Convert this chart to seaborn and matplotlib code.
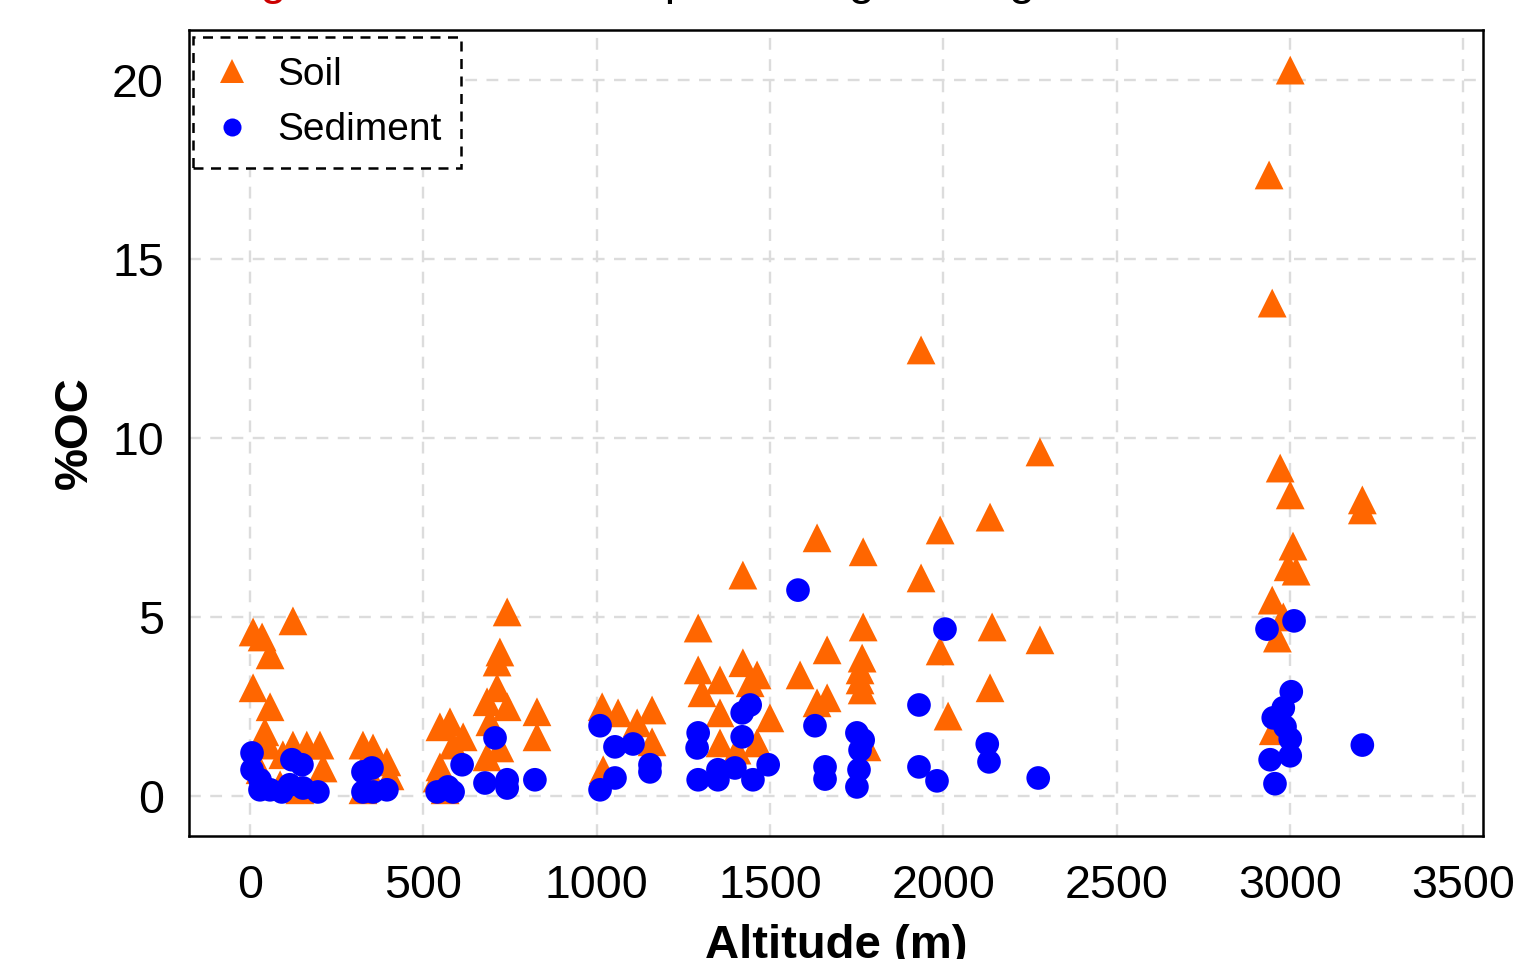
import numpy as np
import pandas as pd
import matplotlib
matplotlib.use("Agg")
import matplotlib.pyplot as plt
import seaborn as sns

# ---- data ----
soil_alt = [9, 35, 58, 124, 9, 58, 43, 52, 124, 164, 202, 95, 211, 29, 144, 87,
            326, 355, 395, 404, 326, 361,
            548, 577, 615, 586, 548, 540, 563,
            742, 721, 713, 713, 684, 742, 692, 684, 721, 828, 828,
            1016, 1062, 1117, 1160, 1160, 1019,
            1293, 1293, 1356, 1304, 1422, 1463, 1443, 1356, 1500, 1356, 1463, 1405, 1422,
            1587, 1636, 1665, 1665, 1636, 1769, 1769, 1766, 1760, 1760, 1766, 1780,
            1936, 1936, 1991, 1991, 2014, 2135, 2141, 2135, 2279, 2279,
            3001, 2940, 2949, 2972, 3001, 3009, 2995, 3018, 2949, 2981, 2964, 2952, 3209, 3209]
soil_oc = [4.58, 4.44, 3.94, 4.89, 3.02, 2.49, 1.79, 1.42, 1.42, 1.42, 1.42, 1.15, 0.78, 0.73, 0.17, 0.31,
           1.42, 1.34, 0.95, 0.56, 0.17, 0.31,
           1.93, 2.07, 1.65, 1.42, 0.81, 0.50, 0.17,
           5.14, 4.02, 3.74, 3.02, 2.63, 2.49, 2.07, 1.09, 1.34, 2.35, 1.65,
           2.49, 2.32, 2.04, 2.40, 1.51, 0.73,
           4.69, 3.52, 3.24, 2.88, 3.72, 3.38, 3.16, 2.32, 2.18, 1.48, 1.48, 1.28, 6.17,
           3.38, 2.60, 2.74, 4.08, 7.21, 6.82, 4.72, 3.85, 3.52, 3.24, 2.96, 1.37,
           12.46, 6.09, 7.43, 4.05, 2.23, 7.79, 4.72, 3.02, 9.61, 4.36,
           20.28, 17.35, 13.77, 9.16, 8.41, 6.98, 6.40, 6.28, 5.47, 5.00, 4.41, 1.82, 8.27, 7.99]

sed_alt = [6, 6, 29, 58, 92, 121, 150, 115, 153, 196, 29,
           326, 352, 326, 355, 395,
           540, 571, 586, 612, 678, 707, 742, 742, 822,
           1010, 1053, 1105, 1154, 1154, 1010, 1053,
           1293, 1290, 1293, 1350, 1350, 1399, 1420, 1443, 1420, 1451, 1495,
           1581, 1630, 1659, 1659, 1751, 1769, 1760, 1757, 1751,
           1930, 2005, 1930, 1982, 2127, 2132, 2274,
           2934, 3012, 3004, 2981, 2952, 2986, 3001, 3001, 2943, 2957, 3209]
sed_oc = [1.20, 0.73, 0.17, 0.17, 0.11, 1.01, 0.87, 0.31, 0.22, 0.11, 0.45,
          0.67, 0.78, 0.11, 0.11, 0.17,
          0.11, 0.25, 0.11, 0.87, 0.36, 1.62, 0.45, 0.22, 0.45,
          1.96, 1.37, 1.45, 0.87, 0.67, 0.17, 0.50,
          1.76, 1.34, 0.45, 0.73, 0.45, 0.78, 2.32, 2.54, 1.65, 0.45, 0.87,
          5.75, 1.96, 0.81, 0.47, 1.76, 1.56, 1.28, 0.73, 0.25,
          2.54, 4.66, 0.81, 0.42, 1.45, 0.95, 0.50,
          4.66, 4.89, 2.91, 2.46, 2.18, 1.93, 1.59, 1.12, 1.01, 0.34, 1.42]

categories = ["Soil", "Sediment"]
x_ticks = [0, 500, 1000, 1500, 2000, 2500, 3000, 3500]
y_ticks = [0, 5, 10, 15, 20]

df = pd.DataFrame({
    "Altitude (m)": soil_alt + sed_alt,
    "%OC": soil_oc + sed_oc,
    "Type": ["Soil"] * len(soil_alt) + ["Sediment"] * len(sed_alt),
})

sns.set_theme(style="white")
plt.rcParams["font.family"] = ["Liberation Sans", "DejaVu Sans"]
plt.rcParams["text.color"] = "black"
plt.rcParams["axes.labelcolor"] = "black"

fig = plt.figure(figsize=(15.14, 9.59), dpi=100)
ax = fig.add_axes([0.1248, 0.1283, 0.9795 - 0.1248, 0.9687 - 0.1283])

ax.set_axisbelow(True)
ax.grid(True, color="#dcdcdc", linestyle=(0, (5, 4)), linewidth=1.7)

sns.scatterplot(data=df, x="Altitude (m)", y="%OC", hue="Type", style="Type",
                hue_order=categories, style_order=categories,
                palette={"Soil": "#FF6600", "Sediment": "#0000FF"},
                markers={"Soil": "^", "Sediment": "o"},
                s=300, linewidth=0, alpha=1, ax=ax, zorder=3)
# triangles drawn somewhat larger than the circles, as in the reference
coll = ax.collections[0]
coll.set_sizes(np.where(df["Type"].to_numpy() == "Soil", 430, 290))

ax.set_xlim(-176, 3557)
ax.set_ylim(-1.12, 21.4)
ax.set_xticks(x_ticks)
ax.set_yticks(y_ticks)
ax.set_xticklabels([str(v) for v in x_ticks])
ax.set_yticklabels([str(v) for v in y_ticks])
ax.tick_params(axis="both", which="major", labelsize=33.5, direction="out",
               length=9, width=1.5, color="black", labelcolor="black")
ax.tick_params(axis="x", pad=11)
ax.tick_params(axis="y", pad=9)

for sp in ax.spines.values():
    sp.set_color("black")
    sp.set_linewidth(1.8)

ax.set_xlabel("Altitude (m)", fontsize=34, fontweight="bold", labelpad=12, color="black")
ax.set_ylabel("%OC", fontsize=34, fontweight="bold", labelpad=11, color="black")

leg = ax.legend(loc="upper left", bbox_to_anchor=(0.003, 0.991), borderaxespad=0,
                fontsize=28, frameon=True, fancybox=False,
                handletextpad=0.66, labelspacing=0.5, borderpad=0.5,
                handlelength=1.0)
for h, ms in zip(leg.legend_handles, [17, 13]):
    try:
        h.set_markersize(ms)
    except AttributeError:
        h.set_sizes([ms ** 2])
for t in leg.get_texts():
    t.set_color("black")
fr = leg.get_frame()
fr.set_edgecolor("black")
fr.set_linestyle((0, (4, 3)))
fr.set_linewidth(1.8)
fr.set_facecolor("white")
fr.set_alpha(1)

# partially visible title at the very top
fig.text(0.146, 1.006, "Figure 6", color="#CC0000", fontsize=34, ha="left", va="baseline")
fig.text(0.262, 1.006, ": Altitude vs. percentage of organic carbon", color="black",
         fontsize=34, ha="left", va="baseline")

fig.savefig("out.png", dpi=100)
